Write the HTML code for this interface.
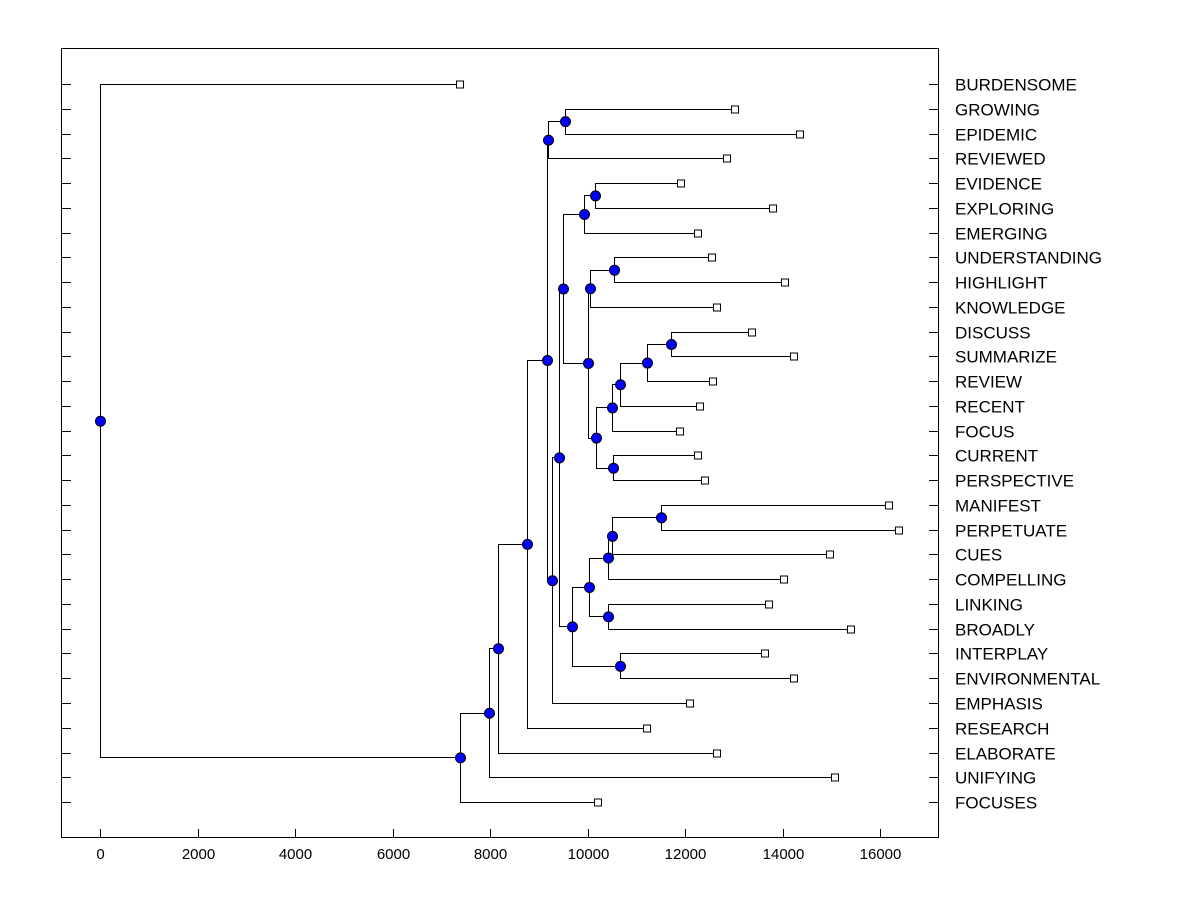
<!DOCTYPE html>
<html><head><meta charset="utf-8"><style>
html,body{margin:0;padding:0;background:#fff;}
svg{display:block;font-family:"Liberation Sans",sans-serif;}
</style></head><body>
<svg id="chart" width="1200" height="900">
<rect x="0" y="0" width="1200" height="900" fill="#fff"/>
<rect x="61.5" y="48.5" width="877" height="789" fill="none" stroke="#000" stroke-width="1"/>
<g id="xaxis"></g>
<g id="links"></g>
<g id="marks"></g>
<g id="labels"></g>
</svg>
<script>
const leafLabels = ["BURDENSOME","GROWING","EPIDEMIC","REVIEWED","EVIDENCE","EXPLORING","EMERGING","UNDERSTANDING","HIGHLIGHT","KNOWLEDGE","DISCUSS","SUMMARIZE","REVIEW","RECENT","FOCUS","CURRENT","PERSPECTIVE","MANIFEST","PERPETUATE","CUES","COMPELLING","LINKING","BROADLY","INTERPLAY","ENVIRONMENTAL","EMPHASIS","RESEARCH","ELABORATE","UNIFYING","FOCUSES"];
const leafValues = [7385,13026,14359,12862,11918,13805,12267,12554,14051,12656,13374,14236,12574,12308,11897,12267,12410,16185,16390,14974,14031,13723,15405,13641,14236,12103,11221,12656,15077,10215];
// merges: negative = leaf (1-based), positive = earlier merge (1-based)
const mergeA = [-2,1,-5,3,-8,5,-11,7,8,9,-16,10,6,4,-18,15,16,-22,17,-24,19,14,22,2,24,25,26,27,-1];
const mergeB = [-3,-4,-6,-7,-9,-10,-12,-13,-14,-15,-17,11,12,13,-19,-20,-21,-23,18,-25,20,21,-26,23,-27,-28,-29,-30,28];
const mergeHeight = [9538,9190,10154,9928,10544,10051,11713,11221,10667,10503,10523,10174,10010,9497,11508,10503,10421,10421,10031,10667,9682,9415,9272,9169,8759,8164,7979,7385,0];
const xTicks = [0,2000,4000,6000,8000,10000,12000,14000,16000];

const NS="http://www.w3.org/2000/svg";
const sx = v => 100 + v*0.04875;
const sy = i => 84 + i*24.76;
function mk(tag, attrs, parent){const e=document.createElementNS(NS,tag);for(const k in attrs)e.setAttribute(k,attrs[k]);parent.appendChild(e);return e;}
const gx=document.getElementById('xaxis'), gl=document.getElementById('links'), gm=document.getElementById('marks'), gt=document.getElementById('labels');

xTicks.forEach(t=>{
  const x=Math.round(sx(t))+0.5;
  const l=mk('line',{x1:x,x2:x,y1:829,y2:838,stroke:'#000'},gx);
  
  
  const tx=mk('text',{x:x,y:859,'text-anchor':'middle','font-size':'15',fill:'#000'},gx);
  tx.textContent=t;
  
  
});

leafLabels.forEach((name,i)=>{
  const y=Math.round(sy(i))+0.5;
  const a=mk('line',{x1:62,x2:71,y1:y,y2:y,stroke:'#000'},gx);
  
  
  const b=mk('line',{x1:929,x2:938,y1:y,y2:y,stroke:'#000'},gx);
  
  
  const t=mk('text',{x:955,y:y+6,'font-size':'17',fill:'#000'},gt);
  t.textContent=name;
  
  
});

const nodeX=[], nodeY=[];
function pos(ref){ if(ref<0){const i=-ref-1;return [sx(leafValues[i]), sy(i)];} return [nodeX[ref-1], nodeY[ref-1]]; }
for(let m=0;m<mergeA.length;m++){
  const pa=pos(mergeA[m]), pb=pos(mergeB[m]);
  const x=Math.round(sx(mergeHeight[m]))+0.5;
  const y=(pa[1]+pb[1])/2;
  nodeX.push(x); nodeY.push(y);
  const p=mk('path',{d:`M${pa[0]},${Math.round(pa[1])+0.5}H${x}V${Math.round(pb[1])+0.5}H${pb[0]}`,fill:'none',stroke:'#000','stroke-width':1},gl);
  
  
}
nodeX.forEach((x,m)=>{
  const c=mk('circle',{cx:x,cy:nodeY[m]+0.5,r:5,fill:'#0000ff',stroke:'#000','stroke-width':1},gm);
  
  
});
leafValues.forEach((v,i)=>{
  const x=sx(v), y=Math.round(sy(i))+0.5;
  const r=mk('rect',{x:x-3.5,y:y-3.5,width:7,height:7,fill:'#fff',stroke:'#000','stroke-width':1},gm);
  
  
});
</script>
</body></html>
